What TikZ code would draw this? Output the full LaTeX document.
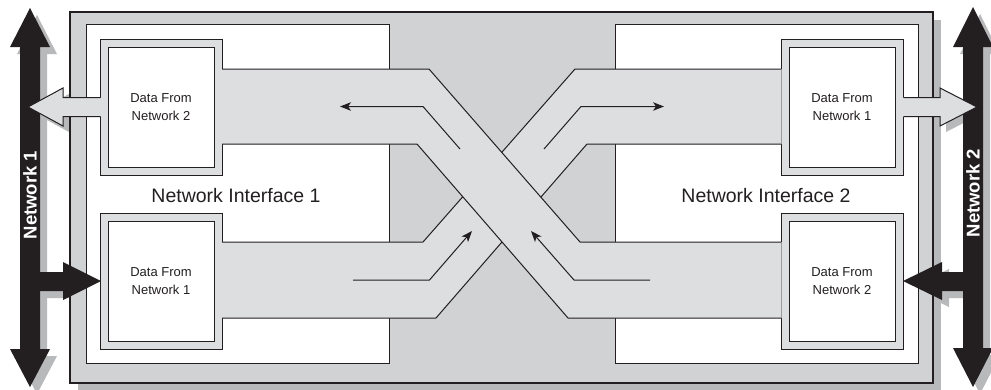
\documentclass[tikz,border=0pt]{standalone}
\usepackage{fontspec}
\setmainfont{Liberation Sans}
\usetikzlibrary{arrows.meta}
\definecolor{ink}{RGB}{35,31,32}
\definecolor{framegray}{RGB}{209,210,212}
\definecolor{bandgray}{RGB}{221,222,224}
\definecolor{shade}{RGB}{184,185,187}
\tikzset{
  edge/.style={draw=ink, line width=1pt, line join=miter},
  flow/.style={draw=ink, line width=1pt, -{Stealth[length=11pt,width=8.5pt,inset=3pt]}},
  framebox/.style={draw=ink, line width=1pt, fill=bandgray},
  panel/.style={draw=ink, line width=1pt, fill=white},
  databox/.style={draw=ink, line width=1pt, fill=white, minimum width=106pt, minimum height=120pt,
    align=center, inner sep=0pt, font=\fontsize{13}{18.5}\selectfont, text=ink},
  netlabel/.style={rotate=90, text=white, font=\fontsize{18.5}{20}\selectfont\bfseries, inner sep=0pt},
  nilabel/.style={anchor=base, text=ink, font=\fontsize{19.5}{22}\selectfont, inner sep=0pt},
  shadowfill/.style={fill=shade},
  blackfill/.style={fill=ink}
}
\begin{document}
\begin{tikzpicture}[x=1pt,y=-1pt]
\useasboundingbox (0,0) rectangle (991,389);
% ---------- shadows ----------
\fill[shadowfill] (78,20) rectangle (941,391);
\begin{scope}[shift={(7,7)}]
  \fill[shadowfill] (30,8) -- (50,47) -- (40,47) -- (40,349) -- (50,349) -- (30,387) -- (10,349) -- (20,349) -- (20,47) -- (10,47) -- cycle;
  \fill[shadowfill] (973,7) -- (993,47) -- (983,47) -- (983,348) -- (993,348) -- (973,387) -- (953,348) -- (963,348) -- (963,47) -- (953,47) -- cycle;
  \fill[shadowfill] (39,272) -- (63,272) -- (63,262) -- (101,281) -- (63,300) -- (63,291) -- (39,291) -- cycle;
  \fill[shadowfill] (964,272) -- (942,272) -- (942,262) -- (903,281) -- (942,300) -- (942,291) -- (964,291) -- cycle;
\end{scope}
\begin{scope}[shift={(6,6)}]
  \fill[shadowfill] (101,97.5) -- (63,97.5) -- (63,88) -- (28,107) -- (63,126) -- (63,116.5) -- (101,116.5) -- cycle;
  \fill[shadowfill] (902,97.5) -- (940,97.5) -- (940,88) -- (977,107) -- (940,126) -- (940,116.5) -- (902,116.5) -- cycle;
\end{scope}
% ---------- outer box and panels ----------
\draw[draw=ink, line width=2.5pt, fill=framegray] (70,12) rectangle (933,383);
\draw[panel] (86,24) rectangle (389,363);
\draw[panel] (615,24) rectangle (918,363);
% ---------- data box frames ----------
\draw[framebox] (100,39) rectangle (222,175);
\draw[framebox] (100,213) rectangle (222,349);
\draw[framebox] (781,39) rectangle (903,175);
\draw[framebox] (781,213) rectangle (903,349);
% ---------- ascending band (behind) ----------
\fill[bandgray] (221.5,242) -- (423,242) -- (575,69) -- (781.5,69) -- (781.5,144) -- (587,144) -- (436,318) -- (221.5,318) -- cycle;
\draw[edge] (222,242) -- (423,242) -- (575,69) -- (781,69);
\draw[edge] (222,318) -- (436,318) -- (587,144) -- (781,144);
% ---------- descending band (front) ----------
\fill[bandgray] (221.5,69) -- (429,69) -- (580,242) -- (781.5,242) -- (781.5,318) -- (568,318) -- (417,144) -- (221.5,144) -- cycle;
\draw[edge] (222,69) -- (429,69) -- (580,242) -- (781,242);
\draw[edge] (222,144) -- (417,144) -- (568,318) -- (781,318);
% ---------- data boxes ----------
\node[databox] (d1) at (161,107) {Data From\\Network 2};
\node[databox] (d2) at (161,281) {Data From\\Network 1};
\node[databox] (d3) at (842,107) {Data From\\Network 1};
\node[databox] (d4) at (842,281) {Data From\\Network 2};
% ---------- flow arrows ----------
\coordinate (a1s) at (460,149);  \coordinate (a1b) at (423,106.5); \coordinate (a1e) at (340,106.5);
\coordinate (a2s) at (544,149);  \coordinate (a2b) at (581,106.5); \coordinate (a2e) at (664,106.5);
\coordinate (a3s) at (353,280);  \coordinate (a3b) at (429.5,280); \coordinate (a3e) at (472,231);
\coordinate (a4s) at (650,280);  \coordinate (a4b) at (574,280);   \coordinate (a4e) at (531,231);
\draw[flow] (a1s) -- (a1b) -- (a1e);
\draw[flow] (a2s) -- (a2b) -- (a2e);
\draw[flow] (a3s) -- (a3b) -- (a3e);
\draw[flow] (a4s) -- (a4b) -- (a4e);
% ---------- network arrows ----------
\fill[blackfill] (30,8) -- (50,47) -- (40,47) -- (40,349) -- (50,349) -- (30,387) -- (10,349) -- (20,349) -- (20,47) -- (10,47) -- cycle;
\fill[blackfill] (973,7) -- (993,47) -- (983,47) -- (983,348) -- (993,348) -- (973,387) -- (953,348) -- (963,348) -- (963,47) -- (953,47) -- cycle;
\fill[blackfill] (39,272) -- (63,272) -- (63,262) -- (101,281) -- (63,300) -- (63,291) -- (39,291) -- cycle;
\fill[blackfill] (964,272) -- (942,272) -- (942,262) -- (903,281) -- (942,300) -- (942,291) -- (964,291) -- cycle;
% ---------- light output arrows ----------
\fill[bandgray] (101,97.5) -- (63,97.5) -- (63,88) -- (28,107) -- (63,126) -- (63,116.5) -- (101,116.5) -- cycle;
\draw[edge] (100.5,97.5) -- (63,97.5) -- (63,88) -- (28,107) -- (63,126) -- (63,116.5) -- (100.5,116.5);
\fill[bandgray] (902,97.5) -- (940,97.5) -- (940,88) -- (977,107) -- (940,126) -- (940,116.5) -- (902,116.5) -- cycle;
\draw[edge] (903.5,97.5) -- (940,97.5) -- (940,88) -- (977,107) -- (940,126) -- (940,116.5) -- (903.5,116.5);
% ---------- labels ----------
\node[netlabel] (n1) at (30,195) {Network 1};
\node[netlabel] (n2) at (973,193) {Network 2};
\node[nilabel] (ni1) at (236,202) {Network Interface 1};
\node[nilabel] (ni2) at (766,202) {Network Interface 2};
\end{tikzpicture}
\end{document}
